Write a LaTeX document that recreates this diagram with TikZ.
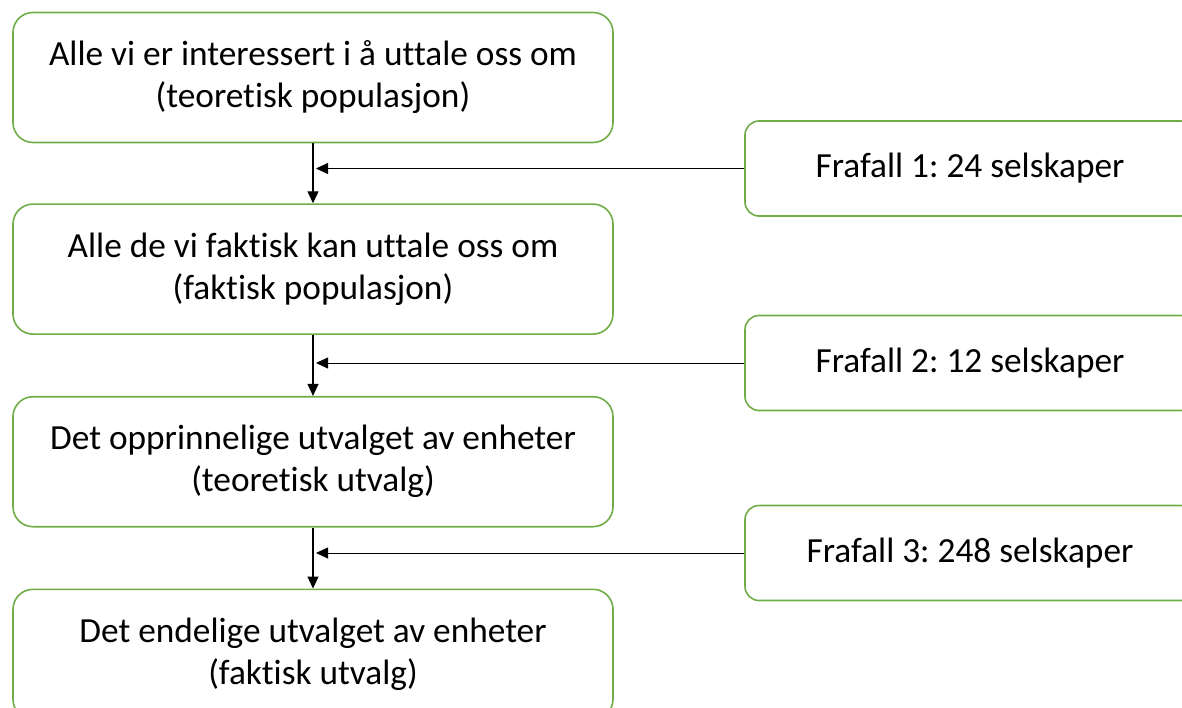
\documentclass[tikz,border=0pt]{standalone}
\usepackage{fontspec}
\setmainfont{Carlito}[Ligatures=NoCommon]
\frenchspacing
\definecolor{FrameGreen}{RGB}{112,173,71}
\usetikzlibrary{arrows.meta, positioning}

\begin{document}
\begin{tikzpicture}[x=1pt, y=1pt,
	stage/.style={draw=FrameGreen, line width=1.6pt, rounded corners=20pt, fill=white,
		minimum width=600pt, minimum height=130pt, align=center,
		font=\fontsize{35.3}{42}\selectfont},
	loss/.style={draw=FrameGreen, line width=1.6pt, rounded corners=14pt, fill=white,
		minimum width=450pt, minimum height=95pt,
		font=\fontsize{35.3}{42}\selectfont},
	flow/.style={-{Triangle[length=12pt, width=11pt]}, line width=1.2pt},
	node distance=61pt]
	\useasboundingbox (0,0) rectangle (1182,-708);
	\clip (0,0) rectangle (1182,-708);

	% main chain
	\node[stage] (teoPop) at (313,-77.5) {Alle vi er interessert i å uttale oss om\\(teoretisk populasjon)};
	\node[stage, below=60pt of teoPop] (fakPop) {Alle de vi faktisk kan uttale oss om\\(faktisk populasjon)};
	\node[stage, below=of fakPop] (teoUtv) {Det opprinnelige utvalget av enheter\\(teoretisk utvalg)};
	\node[stage, below=of teoUtv] (fakUtv) {Det endelige utvalget av enheter\\(faktisk utvalg)};

	% dropouts
	\node[loss] (frafall1) at (970,-168.5) {Frafall 1: 24 selskaper};
	\node[loss] (frafall2) at (970,-363) {Frafall 2: 12 selskaper};
	\node[loss] (frafall3) at (970,-553) {Frafall 3: 248 selskaper};

	\draw[flow] (teoPop) -- (fakPop);
	\draw[flow] (fakPop) -- (teoUtv);
	\draw[flow] (teoUtv) -- (fakUtv);

	\draw[flow, line width=0.8pt] (frafall1.west) -- ([xshift=3pt]frafall1.west -| teoPop.south);
	\draw[flow, line width=0.8pt] (frafall2.west) -- ([xshift=3pt]frafall2.west -| fakPop.south);
	\draw[flow, line width=0.8pt] (frafall3.west) -- ([xshift=3pt]frafall3.west -| teoUtv.south);
\end{tikzpicture}
\end{document}
